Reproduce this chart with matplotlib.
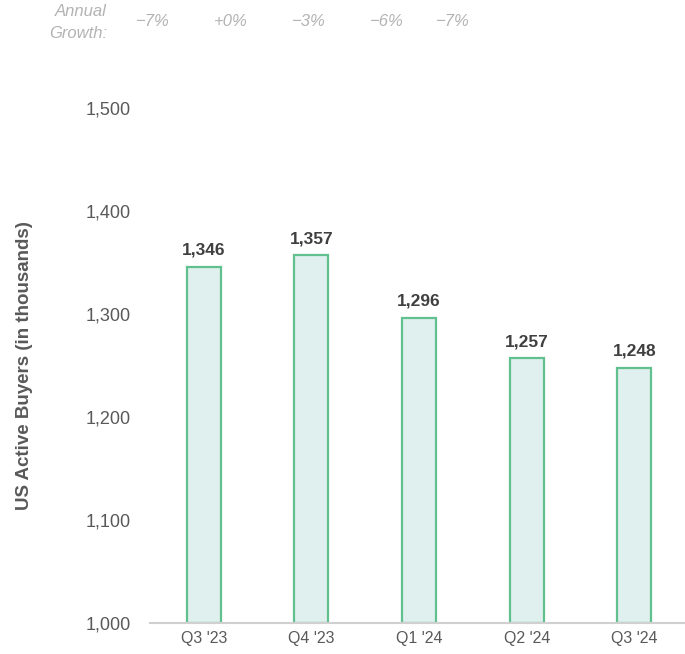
import matplotlib
matplotlib.use('Agg')
import matplotlib.pyplot as plt

quarters = ["Q3 '23", "Q4 '23", "Q1 '24", "Q2 '24", "Q3 '24"]
buyers = [1346, 1357, 1296, 1257, 1248]
growth = ['\u22127%', '+0%', '\u22123%', '\u22126%', '\u22127%']
growth_x = [153, 231, 309, 387, 453]  # pixel centres of growth labels

plt.rcParams['font.family'] = ['Liberation Sans', 'DejaVu Sans']

fig = plt.figure(figsize=(6.85, 6.54), dpi=100)
ax = fig.add_axes([150 / 685, 1 - 623 / 654, 535 / 685, (623 - 108) / 654])

x = range(len(quarters))
ax.bar(x, [b - 1000 for b in buyers], bottom=1000, width=0.316,
	color='#dff0ee', edgecolor='#62c08f', linewidth=1.6, zorder=2)
for i, b in enumerate(buyers):
	ax.text(i, b + 9, f'{b:,}', ha='center', va='bottom', fontsize=12.5,
		fontweight='bold', color='#404040')

ax.set_xlim(-0.499, 4.47)
ax.set_ylim(1000, 1500)
ax.set_yticks([1000, 1100, 1200, 1300, 1400, 1500])
ax.set_yticklabels([f'{v:,}' for v in [1000, 1100, 1200, 1300, 1400, 1500]])
ax.set_xticks(list(x))
ax.set_xticklabels(quarters)
ax.tick_params(axis='both', length=0, labelcolor='#595959')
ax.tick_params(axis='y', pad=14, labelsize=13)
ax.tick_params(axis='x', pad=6, labelsize=11.5)
for s in ['top', 'right', 'left']:
	ax.spines[s].set_visible(False)
ax.spines['bottom'].set_color('#d0d0d0')
ax.spines['bottom'].set_linewidth(1.5)
ax.set_ylabel('US Active Buyers (in thousands)', fontsize=13.5, fontweight='bold',
	color='#595959', labelpad=38)

fig.text(107 / 685, 1 - 12 / 654, 'Annual', ha='right', va='center',
	fontsize=12, style='italic', color='#b3b3b3')
fig.text(107 / 685, 1 - 33 / 654, 'Growth:', ha='right', va='center',
	fontsize=12, style='italic', color='#b3b3b3')
for gx, g in zip(growth_x, growth):
	fig.text(gx / 685, 1 - 22 / 654, g, ha='center', va='center',
		fontsize=12, style='italic', color='#b3b3b3')

fig.savefig('out.png', dpi=100)
